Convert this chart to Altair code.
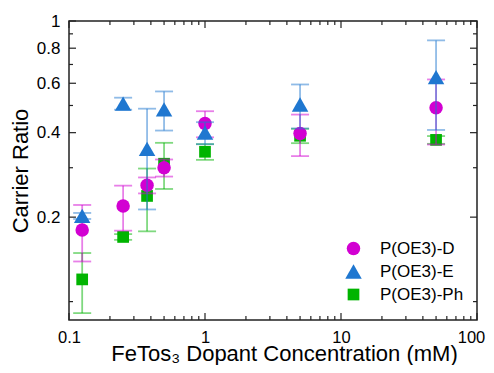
import altair as alt
import pandas as pd

# ---- data ----
conc = [0.125, 0.25, 0.375, 0.5, 1, 5, 50]
series_names = ["P(OE3)-D", "P(OE3)-E", "P(OE3)-Ph"]
ratio_D = [0.180, 0.219, 0.260, 0.300, 0.431, 0.397, 0.491]
err_D = [0.041, 0.040, 0.017, 0.021, 0.046, 0.067, 0.128]
ratio_E = [0.202, 0.508, 0.350, 0.484, 0.400, 0.504, 0.631]
err_E = [0.005, 0.025, 0.137, 0.077, 0.036, 0.090, 0.222]
ratio_Ph = [0.120, 0.170, 0.238, 0.310, 0.342, 0.390, 0.377]
err_Ph = [0.029, 0.004, 0.060, 0.058, 0.022, 0.023, 0.012]

colors = ["#d200d2", "#1f77d0", "#00b400"]
shapes = ["circle", "triangle-up", "square"]
sizes = [182, 272, 137]

x_major = [0.1, 1, 10, 100]
x_minor = [0.2, 0.3, 0.4, 0.5, 0.6, 0.7, 0.8, 0.9,
           2, 3, 4, 5, 6, 7, 8, 9,
           20, 30, 40, 50, 60, 70, 80, 90]
y_major = [0.2, 0.4, 0.6, 0.8, 1]
y_minor = [0.1, 0.3, 0.5, 0.7, 0.9]

XT = "FeTos\u2083 Dopant Concentration (mM)"
YT = "Carrier Ratio"

rows = []
for name, vals, errs in zip(series_names, [ratio_D, ratio_E, ratio_Ph], [err_D, err_E, err_Ph]):
    for c, v, e in zip(conc, vals, errs):
        rows.append({"series": name, "conc": c, "ratio": v, "lo": v - e, "hi": v + e})
df = pd.DataFrame(rows)

W, H = 408, 299
FONT = "Liberation Sans"
xs = alt.Scale(type="log", domain=[0.1, 100])
ys = alt.Scale(type="log", domain=[0.086, 1])

color_enc = alt.Color("series:N", scale=alt.Scale(domain=series_names, range=colors),
                      legend=alt.Legend(title=None, orient="none", legendX=276, legendY=219,
                                        labelFont=FONT, labelFontSize=17, labelColor="black",
                                        labelOffset=18, rowPadding=5, padding=0,
                                        symbolStrokeWidth=0, symbolOpacity=1))
shape_enc = alt.Shape("series:N", scale=alt.Scale(domain=series_names, range=shapes))
size_enc = alt.Size("series:N", scale=alt.Scale(type="ordinal", domain=series_names, range=sizes))

x_axis = alt.Axis(values=x_major, format="~g", title=XT, labelFlush=False,
                  labelOffset={"condition": {"test": "datum.value >= 100", "value": -6}, "value": 0},
                  ticks=False, tickSize=0, domain=False, grid=False, labelPadding=9,
                  labelFont=FONT, labelFontSize=16.5, labelColor="black",
                  titleFont=FONT, titleFontSize=22, titleFontWeight="normal", titleColor="black",
                  titleX=215, titleY=40, titleBaseline="alphabetic")
y_axis = alt.Axis(values=y_major, format="~g", title=YT, labelFlush=False,
                  ticks=False, tickSize=0, domain=False, grid=False, labelPadding=9,
                  labelFont=FONT, labelFontSize=17, labelColor="black",
                  titleFont=FONT, titleFontSize=22, titleFontWeight="normal", titleColor="black",
                  titleX=-42, titleY=H / 2, titleBaseline="alphabetic", titleAngle=270)

base = alt.Chart(df)

layers = []
# frame ticks (inward)
xmaj = pd.DataFrame({"t": x_major})
xmin = pd.DataFrame({"t": x_minor})
ymaj = pd.DataFrame({"t": y_major})
ymin = pd.DataFrame({"t": y_minor})
tick_style = dict(color="#222222", strokeWidth=1.2)
for i, (d, L) in enumerate([(xmaj, 7), (xmin, 4)]):
    layers.append(alt.Chart(d).mark_rule(**tick_style).encode(
        x=alt.X("t:Q", scale=xs, axis=x_axis, title=XT) if i == 0 else alt.X("t:Q", scale=xs, title=XT),
        y=alt.value(H), y2=alt.value(H - L)))
    layers.append(alt.Chart(d).mark_rule(**tick_style).encode(
        x=alt.X("t:Q", scale=xs, title=XT), y=alt.value(0), y2=alt.value(L)))
for i, (d, L) in enumerate([(ymaj, 7), (ymin, 4)]):
    layers.append(alt.Chart(d).mark_rule(**tick_style).encode(
        y=alt.Y("t:Q", scale=ys, axis=y_axis, title=YT) if i == 0 else alt.Y("t:Q", scale=ys, title=YT),
        x=alt.value(0), x2=alt.value(L)))
    layers.append(alt.Chart(d).mark_rule(**tick_style).encode(
        y=alt.Y("t:Q", scale=ys, title=YT), x=alt.value(W), x2=alt.value(W - L)))

draw_order = ["P(OE3)-Ph", "P(OE3)-D", "P(OE3)-E"]
for name in draw_order:
    col = colors[series_names.index(name)]
    sub = base.transform_filter(alt.datum.series == name)
    err_style = dict(color=col, opacity=0.5, strokeWidth=1.8)
    layers.append(sub.mark_rule(**err_style).encode(
        x=alt.X("conc:Q", scale=xs, title=XT),
        y=alt.Y("lo:Q", scale=ys, title=YT), y2="hi:Q"))
    for f in ["lo", "hi"]:
        layers.append(sub.mark_rule(xOffset=-9, x2Offset=9, **err_style).encode(
            x=alt.X("conc:Q", scale=xs, title=XT), x2="conc:Q",
            y=alt.Y(f + ":Q", scale=ys, title=YT)))
    layers.append(sub.mark_point(filled=True, opacity=1, strokeWidth=0).encode(
        x=alt.X("conc:Q", scale=xs, title=XT),
        y=alt.Y("ratio:Q", scale=ys, title=YT),
        color=color_enc, shape=shape_enc, size=size_enc))

chart = alt.layer(*layers).properties(
    width=W, height=H,
    autosize=alt.AutoSizeParams(type="none"),
    padding={"left": 61, "top": 13, "right": 9, "bottom": 45},
).configure_view(stroke="#222222", strokeWidth=1.5)

chart.save("out.html", embed_options={"renderer": "svg", "actions": False})
